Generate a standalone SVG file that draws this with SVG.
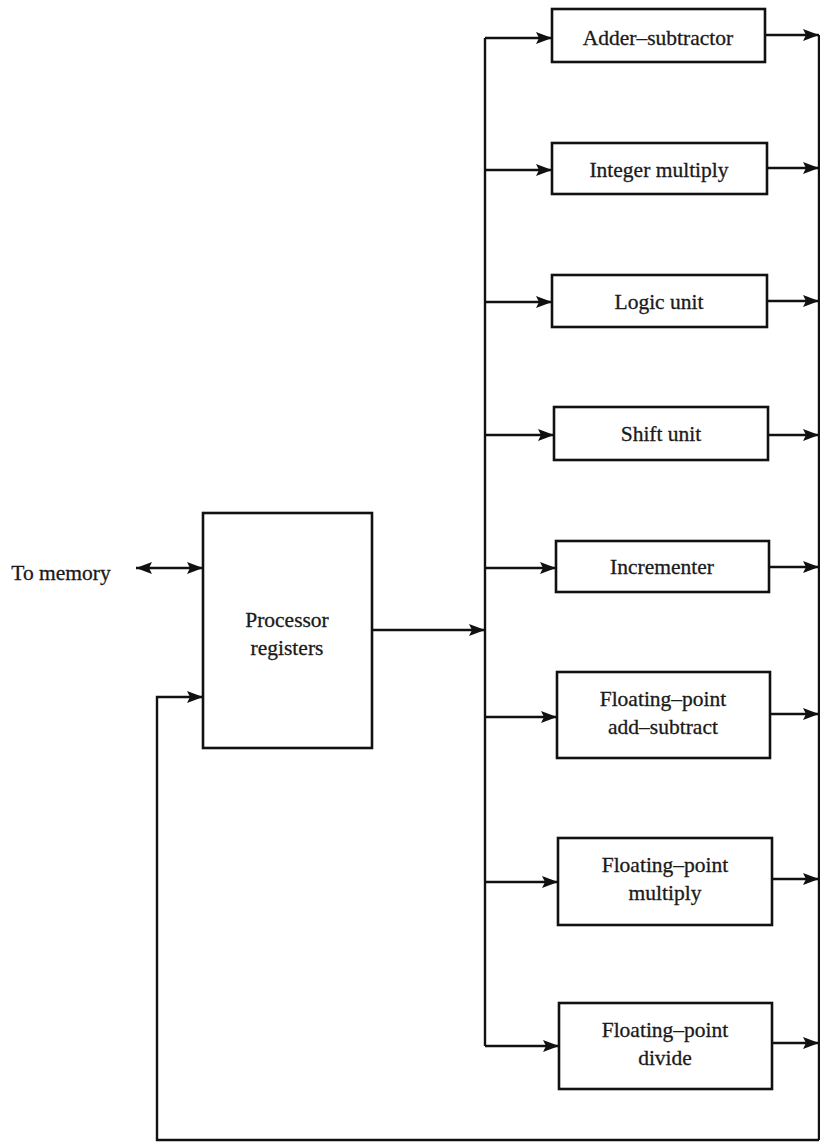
<svg xmlns="http://www.w3.org/2000/svg" width="820" height="1144" viewBox="0 0 820 1144">
<defs>
<marker id="ah" markerUnits="userSpaceOnUse" markerWidth="18" markerHeight="14" refX="16" refY="7" orient="auto-start-reverse">
<path d="M0,1 L16,7 L0,13 L3,7 Z" fill="#111"/>
</marker>
<style>
.box{fill:#fff;stroke:#111;stroke-width:2.6}
.ln{fill:none;stroke:#111;stroke-width:2.4}
.t{font-family:"Liberation Serif","Times New Roman",serif;font-size:21.5px;fill:#1a1a1a;stroke:#1a1a1a;stroke-width:0.3;text-anchor:middle}
</style>
</defs>
<rect width="820" height="1144" fill="#fff"/>
<g id="connectors">
<line class="ln" x1="485" y1="38" x2="485" y2="1046"/>
<line class="ln" x1="485" y1="38" x2="552" y2="38" marker-end="url(#ah)"/>
<line class="ln" x1="485" y1="170" x2="552" y2="170" marker-end="url(#ah)"/>
<line class="ln" x1="485" y1="302" x2="552" y2="302" marker-end="url(#ah)"/>
<line class="ln" x1="485" y1="435" x2="554" y2="435" marker-end="url(#ah)"/>
<line class="ln" x1="485" y1="568" x2="556" y2="568" marker-end="url(#ah)"/>
<line class="ln" x1="485" y1="717" x2="557" y2="717" marker-end="url(#ah)"/>
<line class="ln" x1="485" y1="882" x2="558" y2="882" marker-end="url(#ah)"/>
<line class="ln" x1="485" y1="1046" x2="559" y2="1046" marker-end="url(#ah)"/>
<line class="ln" x1="765" y1="35" x2="819" y2="35" marker-end="url(#ah)"/>
<line class="ln" x1="767" y1="168" x2="819" y2="168" marker-end="url(#ah)"/>
<line class="ln" x1="767" y1="301" x2="819" y2="301" marker-end="url(#ah)"/>
<line class="ln" x1="768" y1="435" x2="819" y2="435" marker-end="url(#ah)"/>
<line class="ln" x1="769" y1="567" x2="819" y2="567" marker-end="url(#ah)"/>
<line class="ln" x1="770" y1="714" x2="819" y2="714" marker-end="url(#ah)"/>
<line class="ln" x1="772" y1="879" x2="819" y2="879" marker-end="url(#ah)"/>
<line class="ln" x1="772" y1="1043" x2="819" y2="1043" marker-end="url(#ah)"/>
<line class="ln" x1="819" y1="35" x2="819" y2="1140" stroke-width="1.4" stroke="#444"/>
<polyline class="ln" points="819,1140 157,1140 157,697 203,697" marker-end="url(#ah)"/>
<line class="ln" x1="372" y1="630" x2="485" y2="630" marker-end="url(#ah)"/>
<line class="ln" x1="136" y1="568" x2="203" y2="568" marker-start="url(#ah)" marker-end="url(#ah)"/>
</g>
<g id="to-memory"><text class="t" x="61" y="580">To memory</text></g>
<g id="processor-registers">
<rect class="box" x="203" y="513" width="169" height="235"/>
<text class="t" x="287" y="627">Processor</text>
<text class="t" x="287" y="655">registers</text>
</g>
<g id="adder-subtractor">
<rect class="box" x="552" y="9" width="213" height="53"/>
<text class="t" x="658" y="45">Adder–subtractor</text>
</g>
<g id="integer-multiply">
<rect class="box" x="552" y="143" width="215" height="51"/>
<text class="t" x="659" y="177">Integer multiply</text>
</g>
<g id="logic-unit">
<rect class="box" x="552" y="275" width="215" height="52"/>
<text class="t" x="659" y="309">Logic unit</text>
</g>
<g id="shift-unit">
<rect class="box" x="554" y="407" width="214" height="53"/>
<text class="t" x="661" y="441">Shift unit</text>
</g>
<g id="incrementer">
<rect class="box" x="556" y="541" width="213" height="51"/>
<text class="t" x="662" y="574">Incrementer</text>
</g>
<g id="fp-add-subtract">
<rect class="box" x="557" y="672" width="213" height="86"/>
<text class="t" x="663" y="706">Floating–point</text>
<text class="t" x="663" y="734">add–subtract</text>
</g>
<g id="fp-multiply">
<rect class="box" x="558" y="838" width="214" height="87"/>
<text class="t" x="665" y="872">Floating–point</text>
<text class="t" x="665" y="900">multiply</text>
</g>
<g id="fp-divide">
<rect class="box" x="559" y="1003" width="213" height="86"/>
<text class="t" x="665" y="1037">Floating–point</text>
<text class="t" x="665" y="1065">divide</text>
</g>
</svg>
